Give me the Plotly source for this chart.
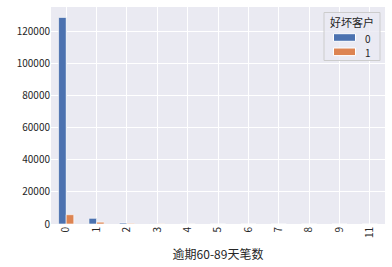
import plotly.graph_objects as go

# 逾期60-89天笔数 per customer, split by good (0) / bad (1)
categories = ["0", "1", "2", "3", "4", "5", "6", "7", "8", "9", "11"]
good_counts = [128900, 3550, 620, 150, 50, 16, 8, 4, 1, 1, 0]
bad_counts = [5800, 1150, 380, 110, 40, 14, 6, 4, 1, 0, 1]
series_names = ["0", "1"]
series_colors = ["#4C72B0", "#DD8452"]
y_ticks = [0, 20000, 40000, 60000, 80000, 100000, 120000]

font_family = "Noto Sans CJK SC, DejaVu Sans, sans-serif"
text_color = "#262626"

W, H = 392, 267
L, R, T, B = 51, 7, 7, 43
pw, ph = W - L - R, H - T - B


def px(x):
    return (x - L) / pw


def py(y):
    return (H - B - y) / ph


fig = go.Figure()
for i, (name, vals, color) in enumerate(zip(series_names, [good_counts, bad_counts], series_colors)):
    fig.add_trace(go.Bar(
        x=categories, y=vals, name=name,
        marker=dict(color=color, line=dict(color="white", width=0.6)),
        width=0.25, offset=-0.25 + 0.25 * i,
        showlegend=False,
    ))

# legend box drawn in paper coordinates
shapes = [dict(type="rect", xref="paper", yref="paper",
               x0=px(324), x1=px(380), y0=py(60.5), y1=py(12.5),
               fillcolor="rgba(234,234,242,0.8)", line=dict(color="#CCCCCC", width=1),
               layer="above")]
annotations = [dict(text="好坏客户", xref="paper", yref="paper", x=px(352), y=py(21.5),
                    showarrow=False, xanchor="center", yanchor="middle",
                    font=dict(size=11, color=text_color))]
for i, (name, color) in enumerate(zip(series_names, series_colors)):
    yc = 37.5 + 14.3 * i
    shapes.append(dict(type="rect", xref="paper", yref="paper",
                       x0=px(333.5), x1=px(355.5), y0=py(yc + 3.8), y1=py(yc - 3.8),
                       fillcolor=color, line=dict(color="white", width=1), layer="above"))
    annotations.append(dict(text=name, xref="paper", yref="paper", x=px(363), y=py(yc + 0.5),
                            showarrow=False, xanchor="left", yanchor="middle",
                            font=dict(size=10, color=text_color)))

fig.update_layout(
    width=W, height=H,
    margin=dict(l=L, r=R, t=T, b=B),
    barmode="overlay",
    paper_bgcolor="white", plot_bgcolor="#EAEAF2",
    font=dict(family=font_family, size=10, color=text_color),
    shapes=shapes, annotations=annotations,
    xaxis=dict(
        type="category", range=[-0.5, 10.5],
        tickangle=-90, showgrid=True, gridcolor="white", gridwidth=1,
        ticks="", zeroline=False, showline=False,
        title=dict(text="逾期60-89天笔数", font=dict(size=12, color=text_color), standoff=13),
        tickfont=dict(size=10, color=text_color),
    ),
    yaxis=dict(
        range=[0, 135400], tickvals=y_ticks, ticktext=[str(v) for v in y_ticks],
        showgrid=True, gridcolor="white", gridwidth=1,
        ticks="", zeroline=False, showline=False,
        tickfont=dict(size=10, color=text_color),
    ),
)

fig.write_html("out.html")
